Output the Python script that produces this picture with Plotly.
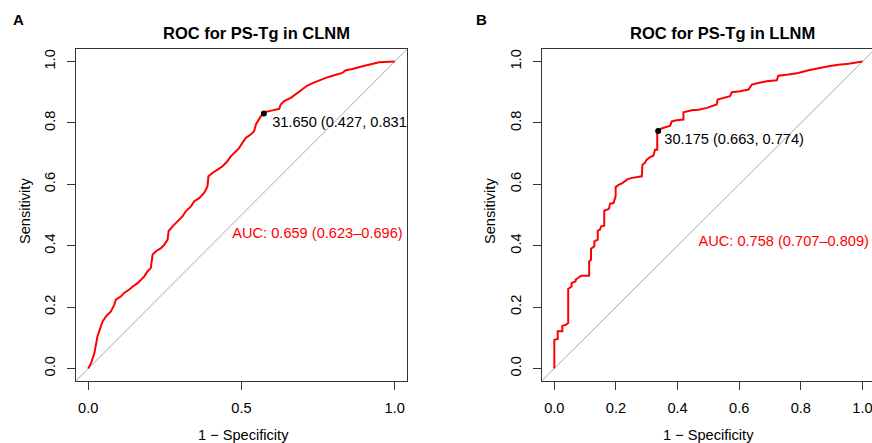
import plotly.graph_objects as go

W, H = 872, 443

# ---------------- Data ----------------
# Panel A: ROC for PS-Tg in CLNM  (x = 1 - specificity, y = sensitivity)
a_fpr = [0.000, 0.009, 0.020, 0.025, 0.030, 0.041, 0.047, 0.058, 0.074, 0.085,
         0.090, 0.107, 0.117, 0.134, 0.145, 0.161, 0.172, 0.183, 0.193, 0.204,
         0.210, 0.221, 0.237, 0.248, 0.259, 0.262, 0.275, 0.291, 0.308, 0.318,
         0.335, 0.346, 0.362, 0.378, 0.389, 0.392, 0.405, 0.422, 0.438, 0.454,
         0.465, 0.482, 0.492, 0.503, 0.514, 0.530, 0.541, 0.547, 0.558, 0.563,
         0.573, 0.579, 0.601, 0.623, 0.628, 0.639, 0.661, 0.683, 0.699, 0.715,
         0.732, 0.753, 0.775, 0.797, 0.829, 0.840, 0.862, 0.895, 0.916, 0.949,
         1.000]
a_tpr = [0.000, 0.017, 0.050, 0.083, 0.104, 0.137, 0.153, 0.170, 0.186, 0.208,
         0.224, 0.235, 0.246, 0.257, 0.267, 0.278, 0.289, 0.300, 0.316, 0.327,
         0.371, 0.382, 0.392, 0.403, 0.420, 0.447, 0.463, 0.479, 0.496, 0.512,
         0.528, 0.545, 0.555, 0.572, 0.593, 0.626, 0.637, 0.648, 0.659, 0.675,
         0.691, 0.708, 0.718, 0.735, 0.751, 0.762, 0.773, 0.795, 0.811, 0.822,
         0.831, 0.836, 0.841, 0.846, 0.860, 0.871, 0.882, 0.898, 0.909, 0.922,
         0.930, 0.939, 0.947, 0.954, 0.963, 0.972, 0.976, 0.985, 0.990, 0.998,
         1.000]
a_best_fpr, a_best_tpr = 0.573, 0.831
a_best_label = "31.650 (0.427, 0.831)"
a_auc_label = "AUC: 0.659 (0.623–0.696)"
a_title = "ROC for PS-Tg in CLNM"
a_xticks = [0.0, 0.5, 1.0]

# Panel B: ROC for PS-Tg in LLNM
b_fpr = [0.000, 0.000, 0.011, 0.011, 0.026, 0.026, 0.037, 0.045, 0.045, 0.056,
         0.056, 0.069, 0.069, 0.087, 0.113, 0.113, 0.119, 0.119, 0.130, 0.130,
         0.141, 0.141, 0.148, 0.152, 0.162, 0.162, 0.177, 0.181, 0.192, 0.195,
         0.199, 0.199, 0.210, 0.221, 0.229, 0.238, 0.253, 0.284, 0.286, 0.294,
         0.300, 0.311, 0.321, 0.327, 0.334, 0.334, 0.348, 0.376, 0.381, 0.397,
         0.419, 0.419, 0.446, 0.468, 0.495, 0.511, 0.527, 0.530, 0.554, 0.570,
         0.576, 0.603, 0.630, 0.641, 0.662, 0.689, 0.722, 0.727, 0.760, 0.792,
         0.825, 0.857, 0.890, 0.922, 0.955, 1.000]
b_tpr = [0.000, 0.093, 0.096, 0.121, 0.121, 0.139, 0.142, 0.148, 0.259, 0.267,
         0.278, 0.284, 0.289, 0.302, 0.302, 0.349, 0.354, 0.390, 0.398, 0.414,
         0.420, 0.449, 0.452, 0.463, 0.465, 0.514, 0.520, 0.537, 0.539, 0.552,
         0.561, 0.591, 0.599, 0.604, 0.610, 0.617, 0.621, 0.626, 0.664, 0.670,
         0.680, 0.689, 0.693, 0.713, 0.713, 0.775, 0.782, 0.791, 0.805, 0.809,
         0.811, 0.835, 0.841, 0.843, 0.849, 0.854, 0.860, 0.876, 0.882, 0.887,
         0.900, 0.903, 0.909, 0.925, 0.930, 0.936, 0.939, 0.954, 0.958, 0.963,
         0.972, 0.979, 0.985, 0.990, 0.993, 1.000]
b_best_fpr, b_best_tpr = 0.337, 0.774
b_best_label = "30.175 (0.663, 0.774)"
b_auc_label = "AUC: 0.758 (0.707–0.809)"
b_title = "ROC for PS-Tg in LLNM"
b_xticks = [0.0, 0.2, 0.4, 0.6, 0.8, 1.0]

yticks = [0.0, 0.2, 0.4, 0.6, 0.8, 1.0]
x_title = "1 − Specificity"
y_title = "Sensitivity"

assert len(a_fpr) == len(a_tpr) and len(b_fpr) == len(b_tpr)

# ---------------- Figure ----------------
FONT = "Liberation Sans, Arial, Helvetica, sans-serif"
RED = "#FF0000"
FRAME = "#333333"
GREY = "#A9A9A9"
FS = 14.6

def px(x, y):
    return x / W, 1 - y / H

fig = go.Figure()

panels = [
    dict(xa="x", ya="y", fpr=a_fpr, tpr=a_tpr, bx=a_best_fpr, by=a_best_tpr,
         blab=a_best_label, auc=a_auc_label, lab_xy=(0.600, 0.800), auc_xy=(0.470, 0.437)),
    dict(xa="x2", ya="y2", fpr=b_fpr, tpr=b_tpr, bx=b_best_fpr, by=b_best_tpr,
         blab=b_best_label, auc=b_auc_label, lab_xy=(0.357, 0.744), auc_xy=(0.468, 0.412)),
]

for p in panels:
    fig.add_trace(go.Scatter(x=[-0.05, 1.05], y=[-0.05, 1.05], mode="lines",
                             line=dict(color=GREY, width=1), xaxis=p["xa"], yaxis=p["ya"],
                             hoverinfo="skip", showlegend=False))
    fig.add_trace(go.Scatter(x=p["fpr"], y=p["tpr"], mode="lines",
                             line=dict(color=RED, width=2), xaxis=p["xa"], yaxis=p["ya"],
                             showlegend=False))
    fig.add_trace(go.Scatter(x=[p["bx"]], y=[p["by"]], mode="markers",
                             marker=dict(color="black", size=6), xaxis=p["xa"], yaxis=p["ya"],
                             showlegend=False))
    fig.add_trace(go.Scatter(x=[p["lab_xy"][0]], y=[p["lab_xy"][1]], mode="text",
                             text=[p["blab"]], textposition="middle right", cliponaxis=True,
                             textfont=dict(family=FONT, size=FS, color="black"),
                             xaxis=p["xa"], yaxis=p["ya"], showlegend=False, hoverinfo="skip"))
    fig.add_trace(go.Scatter(x=[p["auc_xy"][0]], y=[p["auc_xy"][1]], mode="text",
                             text=[p["auc"]], textposition="middle right", cliponaxis=False,
                             textfont=dict(family=FONT, size=FS, color=RED),
                             xaxis=p["xa"], yaxis=p["ya"], showlegend=False, hoverinfo="skip"))

ydom = [1 - 380.7 / H, 1 - 49.3 / H]
axis_common = dict(showline=True, mirror=True, linecolor=FRAME, linewidth=1,
                   ticks="outside", ticklen=8, tickcolor=FRAME, tickwidth=1,
                   showgrid=False, zeroline=False,
                   tickfont=dict(family=FONT, size=FS, color="black"),
                   ticklabelstandoff=6, ticklabeloverflow="allow")

fig.update_layout(
    width=W, height=H, margin=dict(l=0, r=0, t=0, b=0),
    paper_bgcolor="white", plot_bgcolor="white",
    xaxis=dict(domain=[76 / W, 407 / W], range=[-0.04, 1.04], tickvals=a_xticks,
               tickformat=".1f", anchor="y", **axis_common),
    yaxis=dict(domain=ydom, range=[-0.04, 1.04], tickvals=yticks, tickformat=".1f",
               tickangle=-90, anchor="x", **axis_common),
    xaxis2=dict(domain=[542 / W, 1.0], range=[-0.04, 1.031], tickvals=b_xticks,
                tickformat=".1f", anchor="y2", **axis_common),
    yaxis2=dict(domain=ydom, range=[-0.04, 1.04], tickvals=yticks, tickformat=".1f",
                tickangle=-90, anchor="x2", **axis_common),
    showlegend=False,
)

def ann(text, x, y, size=FS, bold=False, angle=0, color="black"):
    xx, yy = px(x, y)
    fig.add_annotation(text=f"<b>{text}</b>" if bold else text, x=xx, y=yy,
                       xref="paper", yref="paper", showarrow=False, textangle=angle,
                       xanchor="center", yanchor="middle",
                       font=dict(family=FONT, size=size, color=color))

ann("A", 18, 20, size=15, bold=True)
ann("B", 481, 20, size=15, bold=True)
ann(a_title, 256, 33, size=16.5, bold=True)
ann(b_title, 722, 33, size=16.5, bold=True)
ann(x_title, 243, 435)
ann(x_title, 708, 435)
ann(y_title, 25, 211, angle=-90)
ann(y_title, 490, 211, angle=-90)

fig.write_html("out.html", config={"displayModeBar": False},
               post_script="document.body.style.margin='0';")
